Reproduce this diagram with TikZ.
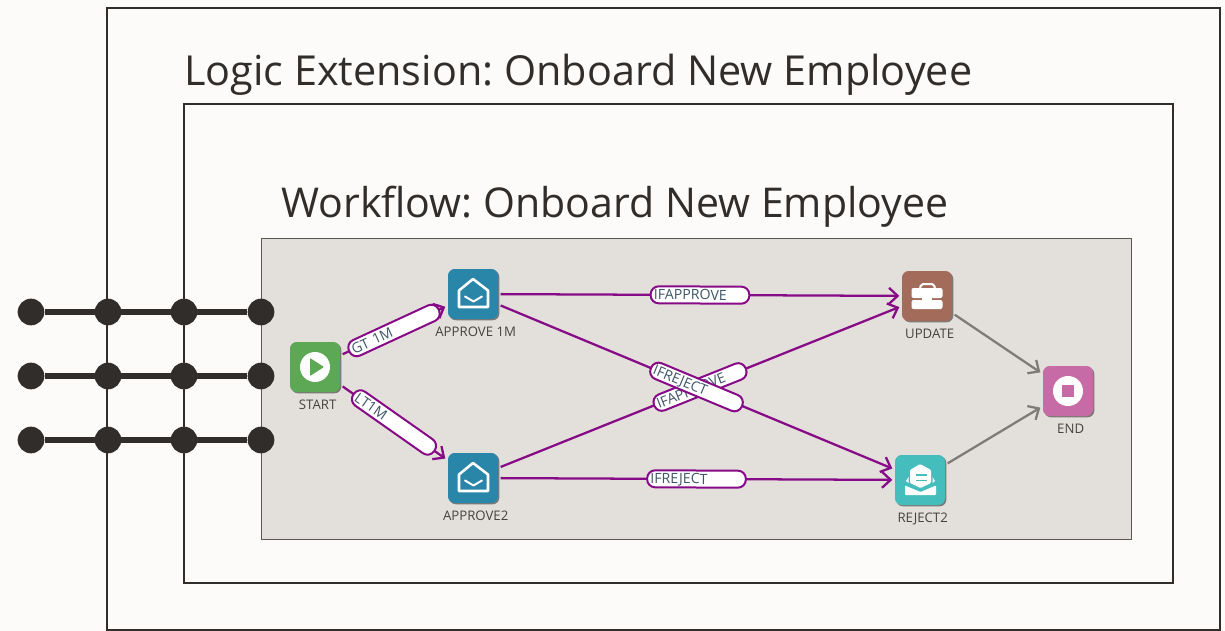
\documentclass[tikz,border=0pt]{standalone}
\usepackage{fontspec}
\setmainfont{Open Sans}
\usetikzlibrary{arrows.meta,positioning,shadows}
\definecolor{inkdark}{HTML}{312D2A}
\definecolor{paper}{HTML}{FCFBF9}
\definecolor{canvasgrey}{HTML}{E3E0DB}
\definecolor{flowpurple}{HTML}{870A87}
\definecolor{endgrey}{HTML}{7F7C78}
\definecolor{startgreen}{HTML}{5CA854}
\definecolor{approveblue}{HTML}{2A86A8}
\definecolor{updatebrown}{HTML}{A26B5A}
\definecolor{rejectteal}{HTML}{45BDBD}
\definecolor{endpink}{HTML}{C76BA6}
\definecolor{pilltext}{HTML}{3F5568}
\tikzset{
	mailicon/.pic={
		\draw[white, line width=1.9pt, line join=round] (0,-15) -- (15,-3.5) -- (15,13) -- (-14,13) -- (-14,-3.5) -- cycle;
		\draw[white, line width=1.5pt, line cap=round, line join=round] (-8,2.5) -- (0.5,7.5) -- (9,2.5);
	},
	playicon/.pic={
		\fill[white] (0,0) circle (15);
		\fill[startgreen, rounded corners=0.6pt] (-5,-9) -- (9,0) -- (-5,9) -- cycle;
	},
	stopicon/.pic={
		\fill[white] (0,0) circle (15);
		\fill[endpink] (-6,-6) rectangle (6,6);
	},
	toolicon/.pic={
		\draw[white, line width=1.5pt, rounded corners=1.5pt] (-7,-7) -- (-6,-12) -- (7,-12) -- (8,-7);
		\fill[white, rounded corners=1.5pt] (-15.5,-8) rectangle (15.5,2);
		\fill[white, rounded corners=1.5pt] (-15.5,4) rectangle (15.5,13);
		\fill[white] (-5,1) rectangle (5,7);
	},
	lettericon/.pic={
		\fill[white, rounded corners=0.8pt] (-10,-10) -- (0,-16) -- (11,-10) -- (11,3) -- (0.5,8) -- (-10,3) -- cycle;
		\fill[white] (-14,1) -- (-11.5,-3) -- (-11.5,3) -- cycle;
		\fill[white] (15,1) -- (12.5,-3) -- (12.5,3) -- cycle;
		\fill[white, rounded corners=0.6pt] (-15,5.5) -- (0.5,12) -- (16,5.5) -- (16,15) -- (-15,15) -- cycle;
		\draw[rejectteal, line width=1.2pt] (-4,-5) -- (7,-5) (-4,0.5) -- (7,0.5);
	}
}
\begin{document}
\frenchspacing
\begin{tikzpicture}[x=0.75pt, y=-0.75pt, node distance=4pt and 0pt,
	frame/.style={draw=inkdark, line width=1.8pt},
	titletext/.style={anchor=base west, font=\fontsize{31}{38}\selectfont, text=inkdark, inner sep=0pt},
	taskbox/.style={rounded corners=5pt, minimum size=37.5pt, inner sep=0pt, outer sep=2pt,
		general shadow={shadow xshift=1pt, shadow yshift=-1pt, fill=black, opacity=0.45}},
	tasklabel/.style={font=\fontsize{9.9}{12}\selectfont, text=inkdark!90, inner sep=0pt, xshift=2pt},
	dot/.style={circle, fill=inkdark, minimum size=20pt, inner sep=0pt},
	wire/.style={draw=inkdark, line width=3.8pt},
	flow/.style={->, >={Straight Barb[length=6.5pt, width=12pt]}, draw=flowpurple, line width=1.7pt},
	endflow/.style={->, >={Straight Barb[length=6.5pt, width=12pt]}, draw=endgrey, line width=1.7pt},
	pill/.style={draw=flowpurple, line width=1.5pt, fill=white, rounded corners=6pt, sloped,
		text width=69pt, align=left, inner xsep=2.5pt, inner ysep=0pt, minimum height=12.75pt,
		text height=7.5pt, text depth=0pt, text=pilltext, font=\fontsize{10.6}{12}\selectfont}]
	\useasboundingbox (0,0) rectangle (1225,631);
	\fill[paper] (0,0) rectangle (1225,631);
	
	\draw[frame] (107,8) rectangle (1220,630);
	\draw[frame] (184,104) rectangle (1173,583);
	\draw[fill=canvasgrey, draw=inkdark!80, line width=0.7pt] (261,238) rectangle (1131,539);
	
	\node[titletext] (outertitle) at (184,86) {Logic Extension: Onboard New Employee};
	\node[titletext, font=\fontsize{30.8}{38}\selectfont] (innertitle) at (281,218) {Workflow: Onboard New Employee};
	
	% tasks
	\node[taskbox, fill=startgreen] (start) at (315,367) {};
	\node[taskbox, fill=approveblue] (approvea) at (473,294) {};
	\node[taskbox, fill=approveblue] (approveb) at (473,478) {};
	\node[taskbox, fill=updatebrown] (update) at (927,296) {};
	\node[taskbox, fill=rejectteal] (reject) at (920,480) {};
	\node[taskbox, fill=endpink] (finish) at (1068,391) {};
	
	\pic at (start) {playicon};
	\pic at (approvea) {mailicon};
	\pic at (approveb) {mailicon};
	\pic at (update) {toolicon};
	\pic at (reject) {lettericon};
	\pic at (finish) {stopicon};
	
	\node[tasklabel, below=of start] (startlabel) {START};
	\node[tasklabel, below=of approvea] (approvealabel) {APPROVE 1M};
	\node[tasklabel, below=of approveb] (approveblabel) {APPROVE2};
	\node[tasklabel, below=of update] (updatelabel) {UPDATE};
	\node[tasklabel, below=of reject] (rejectlabel) {REJECT2};
	\node[tasklabel, below=of finish] (finishlabel) {END};
	
	% connectors
	\draw[flow] (start) -- node[pill] (gtpill) {GT 1M} (approvea);
	\draw[flow] (start) -- node[pill] (ltpill) {LT1M} (approveb);
	\draw[flow] (approvea) -- node[pill] (approvepilla) {IFAPPROVE} (update);
	\draw[flow] (approveb) -- node[pill] (approvepillb) {IFAPPROVE} (update);
	\draw[flow] (approvea) -- node[pill] (rejectpilla) {IFREJECT} (reject);
	\draw[flow] (approveb) -- node[pill] (rejectpillb) {IFREJECT} (reject);
	\draw[endflow] (update) -- (finish);
	\draw[endflow] (reject) -- (finish);
	
	% ports across the frames
	\foreach \row/\ypos in {a/312, b/376, c/440} {
		\foreach \col/\xpos in {1/31, 2/108, 3/184, 4/261} {
			\node[dot] (dot\row\col) at (\xpos,\ypos) {};
		}
		\draw[wire] (dot\row1) -- (dot\row4);
	}
\end{tikzpicture}
\end{document}
